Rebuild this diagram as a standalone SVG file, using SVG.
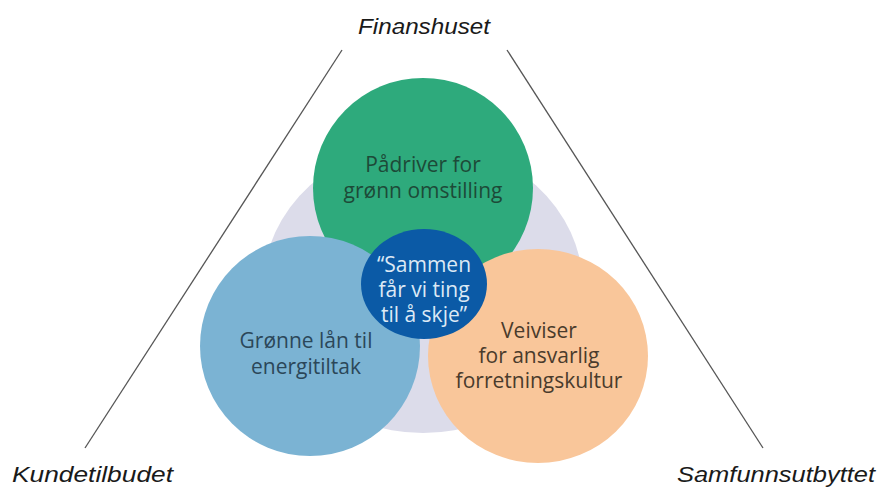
<svg xmlns="http://www.w3.org/2000/svg" width="877" height="487" viewBox="0 0 877 487">
<style>
.lbl{font-family:"Liberation Sans",Arial,sans-serif;font-style:italic;font-size:22px;fill:#1a1a1a;}
.t{font-family:"Open Sans","Liberation Sans",sans-serif;font-size:21px;text-anchor:middle;}
.edge{stroke:#555;stroke-width:1.3;fill:none;}
</style>
<rect width="877" height="487" fill="#ffffff"/>
<g id="connectors">
<line class="edge" x1="342" y1="50" x2="85" y2="448"/>
<line class="edge" x1="507" y1="50" x2="763" y2="448"/>
</g>
<g id="background"><ellipse cx="423" cy="288" rx="160" ry="145" fill="#dcdcea"/></g>
<g id="green">
<circle cx="423" cy="188" r="110" fill="#2eaa7c"/>
<text class="t" fill="#1d4a38"><tspan x="423" y="172">Pådriver for</tspan><tspan x="423" y="198">grønn omstilling</tspan></text>
</g>
<g id="blue">
<circle cx="310" cy="346" r="110" fill="#7bb3d3"/>
<text class="t" fill="#2b4759"><tspan x="306" y="348">Grønne lån til</tspan><tspan x="306" y="374">energitiltak</tspan></text>
</g>
<g id="orange">
<ellipse cx="538" cy="356" rx="110" ry="107" fill="#f9c69a"/>
<text class="t" fill="#4a3b2c"><tspan x="539" y="338">Veiviser</tspan><tspan x="539" y="363">for ansvarlig</tspan><tspan x="539" y="388">forretningskultur</tspan></text>
</g>
<g id="center">
<ellipse cx="424" cy="284" rx="63" ry="55" fill="#0b5aa6"/>
<text class="t" fill="#dce9f5"><tspan x="424" y="272">“Sammen</tspan><tspan x="424" y="297">får vi ting</tspan><tspan x="424" y="322">til å skje”</tspan></text>
</g>
<g id="labels">
<text class="lbl" x="424" y="34" text-anchor="middle" textLength="132" lengthAdjust="spacingAndGlyphs">Finanshuset</text>
<text class="lbl" x="12" y="482" textLength="161" lengthAdjust="spacingAndGlyphs">Kundetilbudet</text>
<text class="lbl" x="677" y="482" textLength="198" lengthAdjust="spacingAndGlyphs">Samfunnsutbyttet</text>
</g>
</svg>
